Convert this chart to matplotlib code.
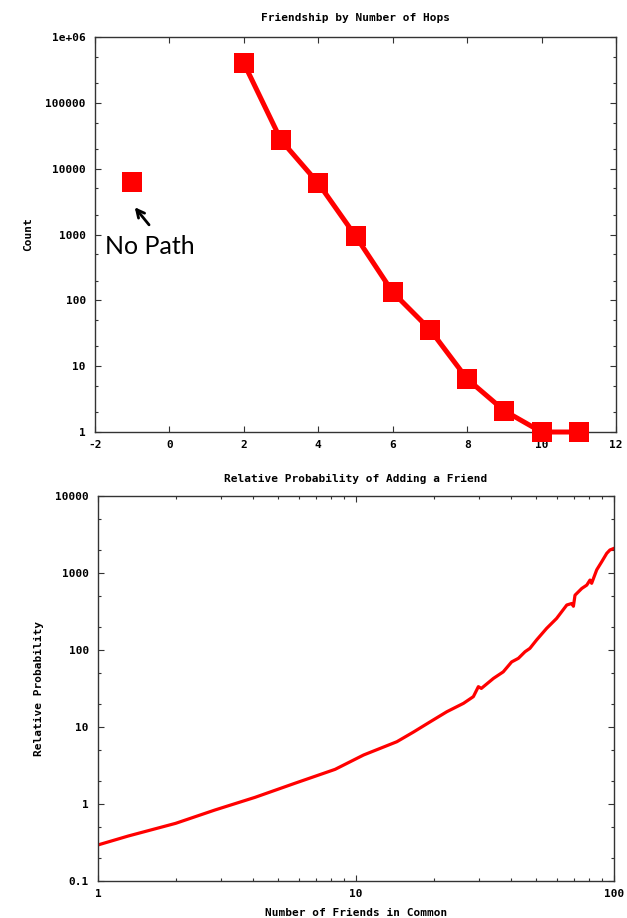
import matplotlib
matplotlib.use('Agg')
import matplotlib.pyplot as plt
from matplotlib.ticker import LogLocator, NullFormatter, FixedLocator

# --- data ---
hops = [2, 3, 4, 5, 6, 7, 8, 9, 10, 11]
hop_counts = [400000, 27000, 6000, 950, 133, 36, 6.4, 2.1, 1, 1]
no_path_hop = [-1]
no_path_count = [6300]

friends = [1, 1.31, 2, 2.84, 4.06, 5.8, 8.3, 10.7, 14.4, 16.7, 19.4, 22.5, 26.1,
           28.5, 29.8, 30.6, 34.1, 37.2, 40.1, 42.6, 45.2, 47.2, 50.1, 54.8,
           59.9, 65.6, 68.6, 69.6, 70.6, 75, 78.4, 80.7, 81.9, 85.7, 89.6,
           93.7, 96.4, 100]
rel_prob = [0.294, 0.384, 0.561, 0.836, 1.22, 1.86, 2.82, 4.33, 6.44, 8.6, 11.7,
            15.8, 20.3, 24.8, 33.4, 31.7, 42.8, 52, 70, 78, 95, 105, 135, 191,
            257, 384, 402, 370, 515, 630, 696, 810, 735, 1100, 1400, 1800,
            1990, 2090]

red = '#ff0000'
frame = '#333333'
plt.rcParams['font.family'] = 'DejaVu Sans Mono'
plt.rcParams['font.weight'] = 'bold'
plt.rcParams['font.size'] = 8
plt.rcParams['axes.unicode_minus'] = False

fig = plt.figure(figsize=(6.27, 9.18), dpi=100)
ax1 = fig.add_axes([0.1515, 0.5294, 0.8310, 0.4303])
ax2 = fig.add_axes([0.1563, 0.0403, 0.8230, 0.4194])


def style_axes(ax):
    for s in ax.spines.values():
        s.set_color(frame)
        s.set_linewidth(1.0)
    ax.tick_params(which='both', direction='in', top=True, right=True,
                   color=frame, labelsize=8)
    ax.tick_params(which='major', length=4.5, width=0.8)
    ax.tick_params(which='minor', length=2.5, width=0.8)
    ax.tick_params(axis='y', pad=6.5)
    ax.tick_params(axis='x', pad=6)
    for lab in ax.get_xticklabels() + ax.get_yticklabels():
        lab.set_fontweight('bold')


# top panel
ax1.plot(hops, hop_counts, color=red, lw=3.6, marker='s', ms=15,
         markeredgewidth=0, clip_on=False, zorder=3)
ax1.plot(no_path_hop, no_path_count, color=red, ls='none', marker='s', ms=15,
         markeredgewidth=0)
ax1.set_yscale('log')
ax1.set_xlim(-2, 12)
ax1.set_ylim(1, 1e6)
ax1.xaxis.set_major_locator(FixedLocator(range(-2, 13, 2)))
ax1.yaxis.set_major_locator(FixedLocator([1, 10, 100, 1000, 1e4, 1e5, 1e6]))
ax1.set_yticklabels(['1', '10', '100', '1000', '10000', '100000', '1e+06'])
ax1.yaxis.set_minor_locator(LogLocator(base=10, subs=(2, 5)))
ax1.yaxis.set_minor_formatter(NullFormatter())
style_axes(ax1)
ax1.set_title('Friendship by Number of Hops', fontsize=8, fontweight='bold', pad=11.5)
ax1.set_ylabel('Count', fontsize=8, fontweight='bold', labelpad=9)
ax1.annotate('', xy=(-0.98, 2800), xytext=(-0.5, 1300),
             arrowprops=dict(arrowstyle='->', color='black', lw=2,
                             mutation_scale=14))
ax1.text(-1.73, 500, 'No Path', fontsize=18, family='Lato',
         fontweight='normal', color='black', va='baseline')

# bottom panel
ax2.plot(friends, rel_prob, color=red, lw=2.3)
ax2.set_xscale('log')
ax2.set_yscale('log')
ax2.set_xlim(1, 100)
ax2.set_ylim(0.1, 10000)
ax2.xaxis.set_major_locator(FixedLocator([1, 10, 100]))
ax2.set_xticklabels(['1', '10', '100'])
ax2.yaxis.set_major_locator(FixedLocator([0.1, 1, 10, 100, 1000, 10000]))
ax2.set_yticklabels(['0.1', '1', '10', '100', '1000', '10000'])
ax2.xaxis.set_minor_locator(LogLocator(base=10, subs=range(2, 10)))
ax2.xaxis.set_minor_formatter(NullFormatter())
ax2.yaxis.set_minor_locator(LogLocator(base=10, subs=(2, 5)))
ax2.yaxis.set_minor_formatter(NullFormatter())
style_axes(ax2)
ax2.set_title('Relative Probability of Adding a Friend', fontsize=8,
              fontweight='bold', pad=10)
ax2.set_xlabel('Number of Friends in Common', fontsize=8, fontweight='bold',
               labelpad=6)
ax2.set_ylabel('Relative Probability', fontsize=8, fontweight='bold', labelpad=8)

fig.savefig('out.png', dpi=100)
